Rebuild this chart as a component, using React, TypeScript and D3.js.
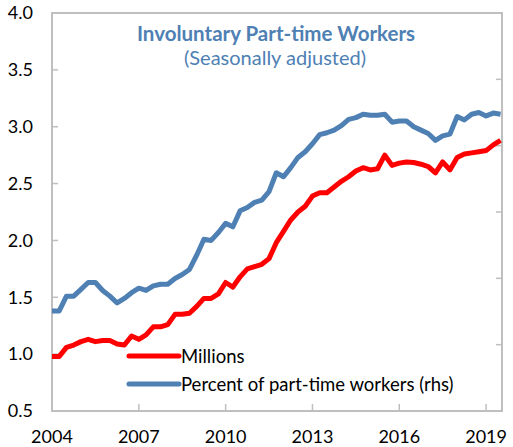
import React, { useEffect, useRef } from "react";
import * as d3 from "d3";

// quarterly, 2004Q1 .. 2019Q3
const startYear = 2004;
const millions = [
  0.98, 0.98, 1.06, 1.08, 1.11, 1.13, 1.11, 1.12, 1.12, 1.09,
  1.08, 1.16, 1.13, 1.17, 1.24, 1.24, 1.26, 1.35, 1.35, 1.36,
  1.42, 1.49, 1.49, 1.53, 1.63, 1.59, 1.68, 1.75, 1.77, 1.79,
  1.84, 1.98, 2.08, 2.18, 2.25, 2.3, 2.39, 2.42, 2.42, 2.47,
  2.52, 2.56, 2.61, 2.64, 2.62, 2.63, 2.75, 2.66, 2.68, 2.69,
  2.685, 2.67, 2.65, 2.595, 2.69, 2.62, 2.73, 2.76, 2.77, 2.78,
  2.79, 2.84, 2.88
];
// percent of part-time workers (rhs), read against the left axis
const percent = [
  1.38, 1.38, 1.51, 1.51, 1.57, 1.63, 1.63, 1.56, 1.51, 1.45,
  1.49, 1.54, 1.58, 1.56, 1.6, 1.615, 1.615, 1.665, 1.7, 1.745,
  1.87, 2.01, 2.0, 2.07, 2.15, 2.12, 2.26, 2.29, 2.335, 2.355,
  2.43, 2.595, 2.56, 2.64, 2.73, 2.78, 2.85, 2.93, 2.947, 2.97,
  3.01, 3.065, 3.08, 3.11, 3.1, 3.1, 3.11, 3.04, 3.05, 3.05,
  3.0, 2.97, 2.94, 2.88, 2.92, 2.935, 3.09, 3.06, 3.11, 3.125,
  3.095, 3.12, 3.11
];
const yTicks = [0.5, 1.0, 1.5, 2.0, 2.5, 3.0, 3.5, 4.0];
const xTicks = [2004, 2007, 2010, 2013, 2016, 2019];
const rightTicks = [0, 1, 2, 3, 4, 5, 6];

const BLUE = "#4e80b4";
const RED = "#ff0000";
const FONT = "Lato, 'Open Sans', sans-serif";

export default function App() {
  const svgRef = useRef<SVGSVGElement>(null);

  useEffect(() => {
    const width = 513;
    const height = 447;
    const m = { left: 52, right: 11, top: 13, bottom: 36 };

    const svg = d3.select(svgRef.current);
    svg.selectAll("*").remove();

    const x = d3
      .scaleLinear()
      .domain([2004, 2019.55])
      .range([m.left, width - m.right]);
    const y = d3
      .scaleLinear()
      .domain([0.5, 4.0])
      .range([height - m.bottom, m.top]);
    const yR = d3
      .scaleLinear()
      .domain([0, 6])
      .range([height - m.bottom, m.top]);

    const frame = "#bfbfbf";
    const x0 = m.left, x1 = width - m.right;
    const y0 = height - m.bottom, y1 = m.top;

    // frame
    svg
      .append("rect")
      .attr("x", x0)
      .attr("y", y1)
      .attr("width", x1 - x0)
      .attr("height", y0 - y1)
      .attr("fill", "none")
      .attr("stroke", frame)
      .attr("stroke-width", 2);

    // left ticks + labels
    const gl = svg.append("g");
    yTicks.forEach(t => {
      gl.append("line")
        .attr("x1", x0)
        .attr("x2", x0 + 6)
        .attr("y1", y(t))
        .attr("y2", y(t))
        .attr("stroke", frame)
        .attr("stroke-width", 1.5);
      gl.append("text")
        .attr("x", 33)
        .attr("y", y(t))
        .attr("dy", "0.35em")
        .attr("text-anchor", "end")
        .attr("font-family", FONT)
        .attr("font-size", 18)
        .attr("fill", "#000")
        .text(t.toFixed(1));
    });

    // right ticks (no labels visible)
    rightTicks.forEach(t => {
      svg
        .append("line")
        .attr("x1", x1)
        .attr("x2", x1 - 6)
        .attr("y1", yR(t))
        .attr("y2", yR(t))
        .attr("stroke", frame)
        .attr("stroke-width", 1.5);
    });

    // bottom ticks + labels
    xTicks.forEach(t => {
      svg
        .append("line")
        .attr("x1", x(t))
        .attr("x2", x(t))
        .attr("y1", y0)
        .attr("y2", y0 - 7)
        .attr("stroke", frame)
        .attr("stroke-width", 1.5);
      svg
        .append("text")
        .attr("x", x(t))
        .attr("y", 443)
        .attr("text-anchor", "middle")
        .attr("font-family", FONT)
        .attr("font-size", 18)
        .attr("fill", "#000")
        .text(t);
    });

    const line = d3
      .line<number>()
      .x((d, i) => x(startYear + i / 4))
      .y(d => y(d));

    svg
      .append("path")
      .datum(percent)
      .attr("d", line)
      .attr("fill", "none")
      .attr("stroke", BLUE)
      .attr("stroke-width", 5)
      .attr("stroke-linejoin", "round");

    svg
      .append("path")
      .datum(millions)
      .attr("d", line)
      .attr("fill", "none")
      .attr("stroke", RED)
      .attr("stroke-width", 5)
      .attr("stroke-linejoin", "round");

    // title
    svg
      .append("text")
      .attr("x", 276)
      .attr("y", 41)
      .attr("text-anchor", "middle")
      .attr("font-family", FONT)
      .attr("font-weight", "bold")
      .attr("font-size", 20.5)
      .attr("fill", BLUE)
      .text("Involuntary Part-time Workers");
    svg
      .append("text")
      .attr("x", 275)
      .attr("y", 65)
      .attr("text-anchor", "middle")
      .attr("font-family", FONT)
      .attr("font-size", 20)
      .attr("fill", BLUE)
      .text("(Seasonally adjusted)");

    // legend
    const legend = [
      { label: "Millions", color: RED, ly: 356 },
      { label: "Percent of part-time workers (rhs)", color: BLUE, ly: 384 }
    ];
    legend.forEach(l => {
      svg
        .append("line")
        .attr("x1", 129)
        .attr("x2", 179)
        .attr("y1", l.ly)
        .attr("y2", l.ly)
        .attr("stroke", l.color)
        .attr("stroke-width", 5)
        .attr("stroke-linecap", "round");
      svg
        .append("text")
        .attr("x", 181)
        .attr("y", l.ly + 6.5)
        .attr("font-family", FONT)
        .attr("font-size", 18.5)
        .attr("fill", "#000")
        .text(l.label);
    });
  }, []);

  return (
    <svg
      ref={svgRef}
      width={513}
      height={447}
      style={{ position: "absolute", left: 0, top: 0, background: "#fff" }}
    />
  );
}
